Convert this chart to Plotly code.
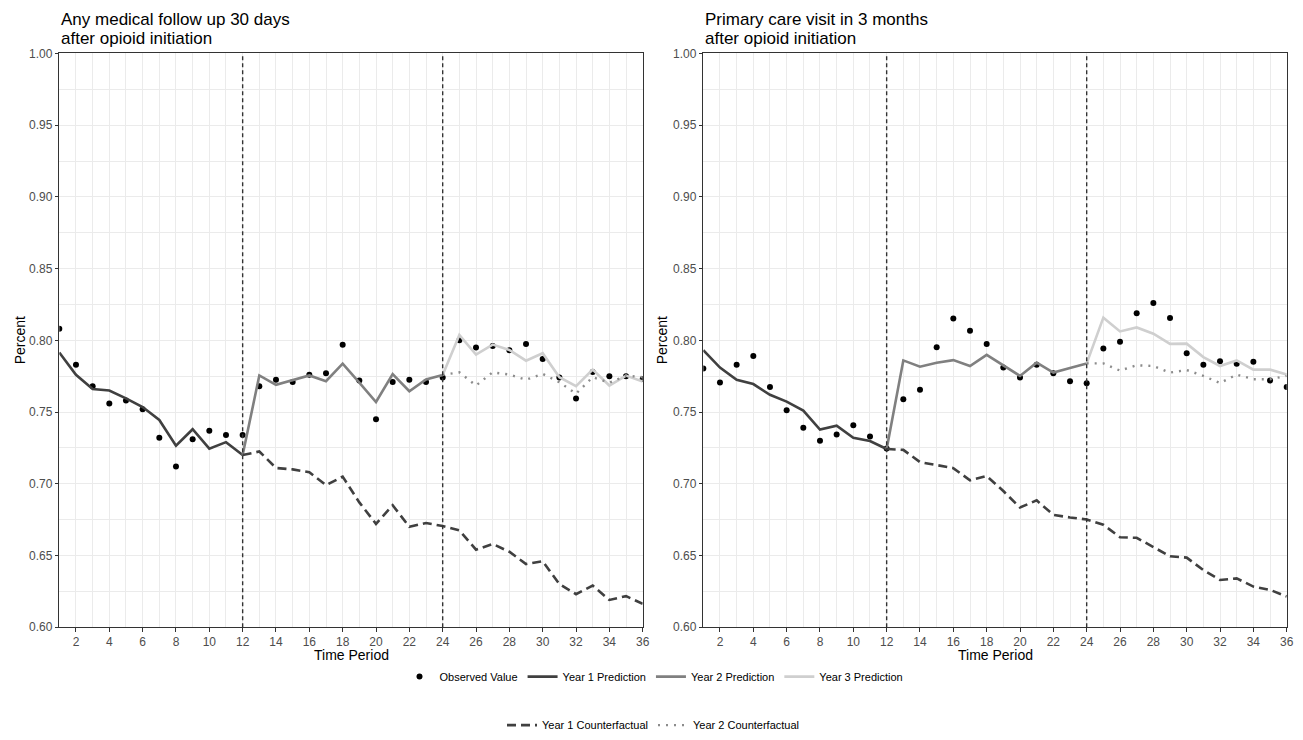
import plotly.graph_objects as go

# ---------------- data ----------------
periods = list(range(1, 37))
p_y1 = list(range(1, 13))
p_y2 = list(range(12, 25))
p_y3 = list(range(24, 37))
p_cf1 = list(range(12, 37))
p_cf2 = list(range(24, 37))
interventions = [12, 24]

titles = [["Any medical follow up 30 days", "after opioid initiation"],
          ["Primary care visit in 3 months", "after opioid initiation"]]

obs_left = [0.808, 0.783, 0.768, 0.756, 0.758, 0.752, 0.732, 0.712, 0.731, 0.737, 0.734, 0.734,
            0.768, 0.7725, 0.771, 0.776, 0.777, 0.797, 0.772, 0.745, 0.771, 0.7725, 0.771, 0.774,
            0.800, 0.795, 0.796, 0.793, 0.7975, 0.787, 0.774, 0.7595, 0.778, 0.775, 0.775, 0.773]
y1pred_left = [0.7915, 0.776, 0.766, 0.765, 0.7595, 0.7535, 0.7445, 0.7265, 0.738, 0.7245, 0.729, 0.720]
y2pred_left = [0.720, 0.7755, 0.769, 0.7725, 0.7755, 0.7715, 0.7837, 0.7705, 0.757, 0.7765, 0.7645, 0.7727, 0.7759]
y3pred_left = [0.7759, 0.8037, 0.790, 0.797, 0.7933, 0.7858, 0.791, 0.7743, 0.768, 0.7796, 0.7685, 0.7754, 0.7713]
y1cf_left = [0.720, 0.7225, 0.711, 0.710, 0.708, 0.699, 0.705, 0.687, 0.672, 0.685, 0.670, 0.6726, 0.6705,
             0.6675, 0.654, 0.658, 0.6526, 0.644, 0.646, 0.630, 0.623, 0.629, 0.619, 0.6216, 0.6163]
y2cf_left = [0.7759, 0.7777, 0.7685, 0.7777, 0.7761, 0.7725, 0.7766, 0.7708, 0.7628, 0.7743, 0.7704, 0.7754, 0.7743]

obs_right = [0.7803, 0.7706, 0.783, 0.789, 0.7674, 0.7513, 0.739, 0.730, 0.7343, 0.7408, 0.733, 0.7245,
             0.759, 0.7656, 0.7952, 0.8152, 0.8067, 0.7975, 0.781, 0.774, 0.783, 0.777, 0.7715, 0.770,
             0.7943, 0.799, 0.8188, 0.826, 0.8156, 0.791, 0.783, 0.7855, 0.7837, 0.785, 0.772, 0.7674]
y1pred_right = [0.7931, 0.781, 0.7725, 0.7695, 0.762, 0.7573, 0.751, 0.7378, 0.7405, 0.732, 0.7298, 0.7242]
y2pred_right = [0.7242, 0.786, 0.7816, 0.7844, 0.7862, 0.7821, 0.7899, 0.7826, 0.7752, 0.7844, 0.7775, 0.7807, 0.7839]
y3pred_right = [0.7839, 0.8158, 0.8062, 0.809, 0.8046, 0.7975, 0.7977, 0.7883, 0.7821, 0.786, 0.7796, 0.7796, 0.7761]
y1cf_right = [0.7242, 0.7236, 0.7151, 0.7132, 0.7109, 0.7024, 0.7054, 0.6949, 0.6834, 0.6884, 0.6783, 0.6765, 0.6751,
              0.6714, 0.6627, 0.6623, 0.6558, 0.6494, 0.6485, 0.6398, 0.6329, 0.634, 0.6283, 0.626, 0.6214]
y2cf_right = [0.7839, 0.7839, 0.7789, 0.7826, 0.7821, 0.7775, 0.7793, 0.7752, 0.7702, 0.7761, 0.7729, 0.7729, 0.7752]

x_ticks = list(range(2, 37, 2))
y_ticks = [0.60, 0.65, 0.70, 0.75, 0.80, 0.85, 0.90, 0.95, 1.00]

# ---------------- figure ----------------
# the page body has an 8px margin, so the figure is sized to fill the rest of the window
OFF = 8
W, H = 1303 - OFF, 740 - OFF
FONT = "Liberation Sans, Arial, sans-serif"
fig = go.Figure()

panels = [
    dict(obs=obs_left, y1=y1pred_left, y2=y2pred_left, y3=y3pred_left, cf1=y1cf_left, cf2=y2cf_left),
    dict(obs=obs_right, y1=y1pred_right, y2=y2pred_right, y3=y3pred_right, cf1=y1cf_right, cf2=y2cf_right),
]

for i, p in enumerate(panels):
    xa = "x" if i == 0 else "x2"
    ya = "y" if i == 0 else "y2"
    show = i == 0
    fig.add_trace(go.Scatter(x=periods, y=p["obs"], mode="markers", name="Observed Value",
                             marker=dict(color="black", size=6), xaxis=xa, yaxis=ya,
                             showlegend=show, legend="legend"))
    fig.add_trace(go.Scatter(x=p_y1, y=p["y1"], mode="lines", name="Year 1 Prediction",
                             line=dict(color="#404040", width=2.6), xaxis=xa, yaxis=ya,
                             showlegend=show, legend="legend"))
    fig.add_trace(go.Scatter(x=p_y2, y=p["y2"], mode="lines", name="Year 2 Prediction",
                             line=dict(color="#808080", width=2.6), xaxis=xa, yaxis=ya,
                             showlegend=show, legend="legend"))
    fig.add_trace(go.Scatter(x=p_y3, y=p["y3"], mode="lines", name="Year 3 Prediction",
                             line=dict(color="#CFCFCF", width=2.6), xaxis=xa, yaxis=ya,
                             showlegend=show, legend="legend"))
    fig.add_trace(go.Scatter(x=p_cf1, y=p["cf1"], mode="lines", name="Year 1 Counterfactual",
                             line=dict(color="#404040", width=2.6, dash="9px,5px"), xaxis=xa, yaxis=ya,
                             showlegend=show, legend="legend2"))
    fig.add_trace(go.Scatter(x=p_cf2, y=p["cf2"], mode="lines", name="Year 2 Counterfactual",
                             line=dict(color="#8C8C8C", width=2.4, dash="2px,6px"), xaxis=xa, yaxis=ya,
                             showlegend=show, legend="legend2"))
    for v in interventions:
        fig.add_shape(type="line", x0=v, x1=v, y0=0, y1=1, xref=xa, yref=ya + " domain",
                      line=dict(color="#333333", width=1.4, dash="4px,3px"), layer="above")

# geometry in window pixels (converted to figure coordinates)
def fx(px):
    return (px - OFF) / W

def fy(py):
    return 1 - (py - OFF) / H

dom_l = [fx(59.3), fx(642.7)]
dom_r = [fx(703.3), fx(1286.7)]
dom_y = [fy(634), fy(54)]

def xaxis_def(dom, anchor):
    return dict(domain=dom, anchor=anchor, range=[1, 36], tickvals=x_ticks,
                showgrid=True, gridcolor="#EBEBEB", gridwidth=1.1, zeroline=False,
                minor=dict(dtick=1, tick0=1, showgrid=True, gridcolor="#EBEBEB", gridwidth=0.55, ticks=""),
                showline=True, mirror=True, linecolor="#333333", linewidth=1,
                ticks="outside", ticklen=3.5, tickcolor="#333333", tickwidth=1,
                tickfont=dict(size=12, color="#4D4D4D", family=FONT), automargin=False)

def yaxis_def(anchor):
    return dict(domain=dom_y, anchor=anchor, range=[0.6, 1.0], tickvals=y_ticks, tickformat=".2f",
                showgrid=True, gridcolor="#EBEBEB", gridwidth=1.1, zeroline=False,
                minor=dict(dtick=0.025, tick0=0.6, showgrid=True, gridcolor="#EBEBEB", gridwidth=0.55, ticks=""),
                showline=True, mirror=True, linecolor="#333333", linewidth=1,
                ticks="outside", ticklen=3.5, tickcolor="#333333", tickwidth=1,
                tickfont=dict(size=12, color="#4D4D4D", family=FONT), automargin=False)

annotations = []
for dom, (l1, l2), ytitle_x in [(dom_l, titles[0], 20), (dom_r, titles[1], 662)]:
    annotations.append(dict(text=l1, x=dom[0], y=fy(20), xref="paper", yref="paper",
                            xanchor="left", yanchor="middle", showarrow=False,
                            font=dict(size=17, color="black", family=FONT)))
    annotations.append(dict(text=l2, x=dom[0], y=fy(39), xref="paper", yref="paper",
                            xanchor="left", yanchor="middle", showarrow=False,
                            font=dict(size=17, color="black", family=FONT)))
    annotations.append(dict(text="Time Period", x=(dom[0] + dom[1]) / 2, y=fy(662),
                            xref="paper", yref="paper", xanchor="center", yanchor="middle",
                            showarrow=False, font=dict(size=14, color="black", family=FONT)))
    annotations.append(dict(text="Percent", x=fx(ytitle_x), y=fy(344), xref="paper", yref="paper",
                            xanchor="center", yanchor="middle", textangle=-90, showarrow=False,
                            font=dict(size=14, color="black", family=FONT)))

fig.update_layout(
    width=W, height=H,
    margin=dict(l=0, r=0, t=0, b=0),
    paper_bgcolor="white", plot_bgcolor="white",
    font=dict(family=FONT, color="black"),
    xaxis=xaxis_def(dom_l, "y"),
    yaxis=yaxis_def("x"),
    xaxis2=xaxis_def(dom_r, "y2"),
    yaxis2=yaxis_def("x2"),
    annotations=annotations,
    legend=dict(orientation="h", x=fx(654), xanchor="center", y=fy(684), yanchor="middle",
                font=dict(size=11, color="black", family=FONT), bgcolor="rgba(0,0,0,0)",
                itemwidth=30, tracegroupgap=0),
    legend2=dict(orientation="h", x=fx(653), xanchor="center", y=fy(733), yanchor="middle",
                 font=dict(size=11, color="black", family=FONT), bgcolor="rgba(0,0,0,0)",
                 itemwidth=30, tracegroupgap=0),
)

fig.write_html("out.html")
